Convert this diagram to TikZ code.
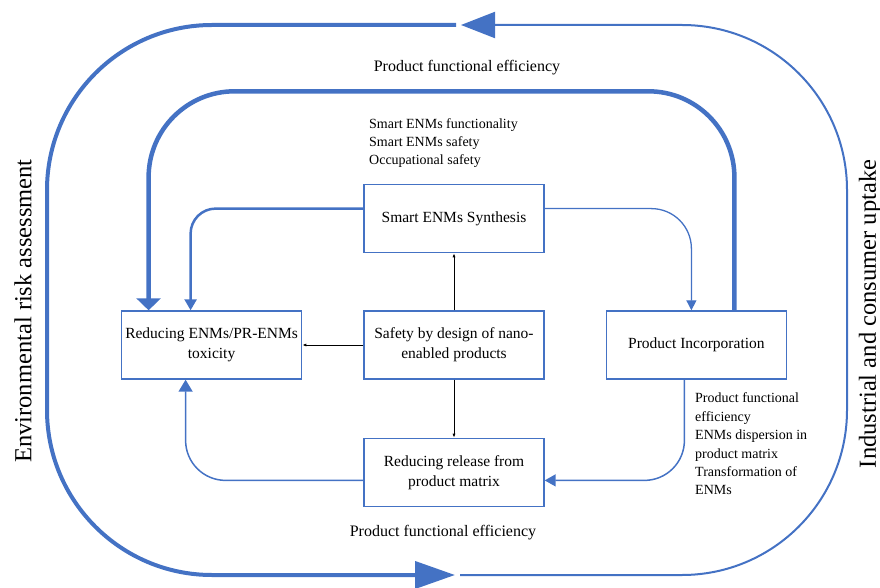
\documentclass[tikz,border=0pt]{standalone}
\usepackage{fontspec}
\setmainfont{Liberation Serif}
\usetikzlibrary{arrows.meta,positioning}
\definecolor{wordblue}{HTML}{4472C4}

\begin{document}
\begin{tikzpicture}[%
    x=1pt, y=1pt,                 % Work in points, measured off the page
    node distance=57pt and 61pt,  % Global setup of box spacing
    ]
% -------------------------------------------------
% A few box and line styles
\tikzset{
  box/.style={draw=wordblue, line width=1.4pt, align=center, inner sep=2pt,
    minimum width=180pt, minimum height=68pt,
    font=\fontsize{15.5}{20}\selectfont},
  note/.style={align=left, inner sep=0pt, font=\fontsize{14}{18.4}\selectfont},
  side/.style={rotate=90, inner sep=0pt, font=\fontsize{24.5}{28}\selectfont},
  % Connector line styles for different parts of the diagram
  loopthick/.style={draw=wordblue, line width=4pt, rounded corners=165pt,
    -{Triangle[length=40pt, width=27pt]}},
  loopthin/.style={draw=wordblue, line width=2pt, rounded corners=165pt,
    -{Triangle[length=34pt, width=26pt]}},
  flow/.style={draw=wordblue, line width=1.5pt,
    -{Triangle[length=11pt, width=12pt]}},
  link/.style={draw=black, line width=0.8pt, -{Latex[length=4pt, width=3pt]}}
}
\useasboundingbox (0,0) rectangle (880,587);
% -------------------------------------------------
% Start by placing the nodes
\node [box] (safety) at (454,242) {Safety by design of nano-\\enabled products};
\node [box, above=of safety] (synth) {Smart ENMs Synthesis};
\node [box, below=58pt of safety] (release) {Reducing release from\\product matrix};
\node [box, left=of safety] (tox) {Reducing ENMs/PR-ENMs\\toxicity};
\node [box, right=of safety] (incorp) {Product Incorporation};

% Labels round the boxes
\node [note, anchor=west] (synthnote) at (369,444)
  {Smart ENMs functionality\\Smart ENMs safety\\Occupational safety};
\node [note, anchor=west] (incorpnote) at (695,143)
  {Product functional\\efficiency\\ENMs dispersion in\\product matrix\\Transformation of\\ENMs};
\node [note, font=\fontsize{16}{20}\selectfont] (topnote) at (467,519)
  {Product functional efficiency};
\node [note, font=\fontsize{16}{20}\selectfont] (botnote) at (443,54)
  {Product functional efficiency};
\node [side] (envlabel) at (23,276) {Environmental risk assessment};
\node [side] (indlabel) at (870,273) {Industrial and consumer uptake};

% -------------------------------------------------
% Outer loop, in two halves
\coordinate (outtop) at (456,562);
\coordinate (outbot) at (460,12);
\draw [loopthick] (outtop) -- (47,562) -- (47,12) -- ([xshift=-5pt]outbot);
\draw [loopthin] (outbot) -- (847,12) -- (847,562) -- ([xshift=5pt]outtop);

% Inner loop from incorporation back to toxicity
\draw [draw=wordblue, line width=4.5pt, rounded corners=86pt,
    -{Triangle[length=12pt, width=24pt]}]
  ([xshift=38pt]incorp.north) -- ++(0,219) -| ([xshift=-63pt]tox.north);

% Blue connectors between the boxes
\draw [flow, line width=2.5pt, rounded corners=25pt]
  ([yshift=10pt]synth.west) -| ([xshift=-21pt]tox.north);
\draw [flow, line width=1.3pt, rounded corners=40pt,
    -{Triangle[length=10pt, width=10pt]}]
  ([yshift=10pt]synth.east) -| ([xshift=-5pt]incorp.north);
\draw [flow, rounded corners=40pt]
  ([xshift=-12pt]incorp.south) |- ([yshift=-8pt]release.east);
\draw [flow, rounded corners=40pt, -{Triangle[length=12pt, width=14pt]}]
  ([yshift=-8pt]release.west) -| ([xshift=-26pt]tox.south);

% Black connectors out of the design box
\draw [link] (safety) -- (synth);
\draw [link] (safety) -- (tox);
\draw [link] (safety) -- (release);
% -------------------------------------------------
\end{tikzpicture}
\end{document}
